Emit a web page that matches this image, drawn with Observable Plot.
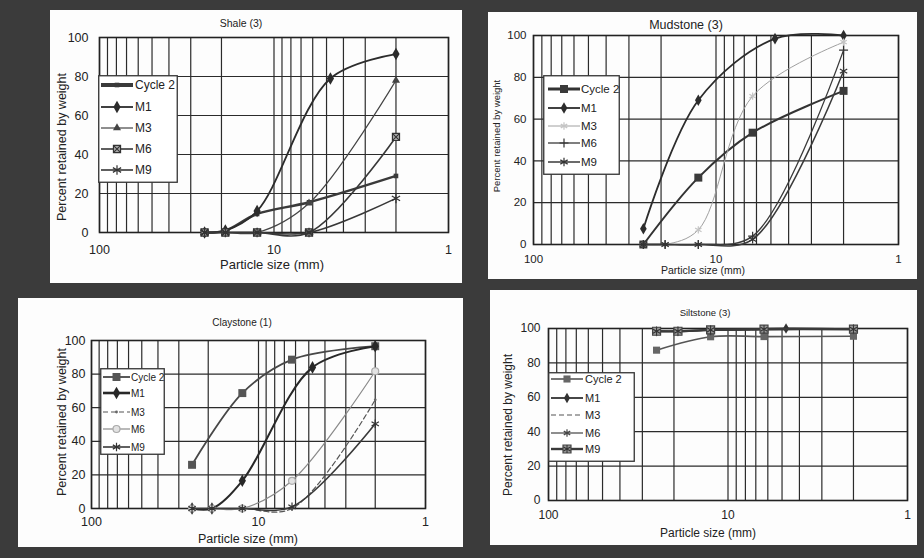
<!DOCTYPE html>
<html><head><meta charset="utf-8">
<script src="https://cdn.jsdelivr.net/npm/d3@7"></script>
<script src="https://cdn.jsdelivr.net/npm/@observablehq/plot@0.6"></script>
<style>
body{margin:0;background:#3b3b3b;}
#root{position:relative;width:924px;height:558px;background:#3b3b3b;font-family:"Liberation Sans",Arial,sans-serif;overflow:hidden;}
.panel{position:absolute;background:#fdfdfd;}
.panel > svg{position:absolute;left:0;top:0;}
.t{position:absolute;white-space:nowrap;color:#222;transform:translate(-50%,-50%);line-height:1;}
.yl{transform:translate(-50%,-50%) rotate(-90deg);}
svg.legend{position:absolute;}
</style></head><body><div id="root"></div><script>
// ---- shared axes ----
const sizes = [25, 19, 12.5, 6.3, 4.75, 2];          // sieve sizes (mm)
const seriesNames = ["Cycle 2", "M1", "M3", "M6", "M9"];
const xTickValues = [100, 10, 1];
const yTickValues = [0, 20, 40, 60, 80, 100];
const xGridValues = [1,2,3,4,5,6,7,8,9,10,20,30,40,50,60,70,80,90,100];

// ---- Shale (3) ----
const shaleCycle2 = [0, 1, 9.5, 15.5, null, 29];
const shaleM1     = [0, 1, 11, null, 79, 91.5];
const shaleM3     = [0, 0, 0, 15, null, 78];
const shaleM6     = [0, 0, 0, 0, null, 49];
const shaleM9     = [0, 0, 0, 0, null, 17.5];

// ---- Mudstone (3) ----
const mudCycle2 = [0, null, 32, 53.5, null, 73.5];
const mudM1     = [7.5, null, 69, null, 98.5, 100];
const mudM3     = [0, 0, 7, 71, null, 96.8];
const mudM6     = [0, 0, 0, 4, null, 93];
const mudM9     = [0, 0, 0, 2.5, null, 83];

// ---- Claystone (1) ----
const clayCycle2 = [26, null, 68.7, 88.6, null, 96.6];
const clayM1     = [0, 0, 16.5, null, 84, 96.6];
const clayM3     = [0, 0, 0, 0, null, 64.7];
const clayM6     = [0, 0, 0, 16.5, null, 81.7];
const clayM9     = [0, 0, 0, 1, null, 50.4];

// ---- Siltstone (3) ----
const siltCycle2 = [87.4, null, 95.2, 95.3, null, 95.5];
const siltM1     = [98.4, 98.4, 99, null, 100, 99.6];
const siltM3     = [98.4, 98.4, 99, 99.4, null, 99.6];
const siltM6     = [98.4, 98.4, 99, 99.4, null, 99.6];
const siltM9     = [98.4, 98.4, 99.2, 99.6, null, 99.6];

const yLabelText = "Percent retained by weight";
const xLabelText = "Particle size (mm)";

const panels = [
  {title: "Shale (3)", box: [50, 10, 412, 273], m: [27, 14, 51, 49],
   titlePos: [191, 13, 10.5], yLabel: [12, 137, 12.5], xLabel: [222, 254, 13],
   tickFont: 12.5, xPad: 13, yPad: 11,
   legend: {box: [48, 65, 80, 108], rows: [10, 32, 53, 74, 95], sw: [3, 35], tx: 37, font: 12},
   series: [
     {values: shaleCycle2, color: "#3a3a3a", width: 2.4, lw: 4, symbol: "square", r: 2.6, fill: "#3a3a3a"},
     {values: shaleM1, color: "#2c2c2c", width: 1.8, symbol: "diamond", r: 3.8, fill: "#2c2c2c"},
     {values: shaleM3, color: "#444", width: 1.2, symbol: "triangle", r: 3, fill: "#444"},
     {values: shaleM6, color: "#383838", width: 1.6, symbol: "square", r: 4, fill: "#aaa", mstroke: "#333", symbol2: "times"},
     {values: shaleM9, color: "#383838", width: 1.6, symbol: "asterisk", r: 4.5, mstroke: "#333"}
   ]},
  {title: "Mudstone (3)", box: [488, 12, 429, 267], m: [23, 19, 35, 45],
   titlePos: [198, 13, 12.5], yLabel: [9, 124, 9.5], xLabel: [215, 258, 10.5],
   tickFont: 11.5, xPad: 10, yPad: 7,
   legend: {box: [55, 63, 77, 100], rows: [14, 33, 51, 68, 87], sw: [5, 37], tx: 38, font: 11.5},
   series: [
     {values: mudCycle2, color: "#333", width: 2, lw: 3, symbol: "square", r: 4.5, fill: "#3a3a3a"},
     {values: mudM1, color: "#2c2c2c", width: 1.8, symbol: "diamond", r: 3.5, fill: "#2c2c2c"},
     {values: mudM3, color: "#a0a0a0", width: 1, symbol: "asterisk", r: 3.5, mstroke: "#c4c4c4"},
     {values: mudM6, color: "#3a3a3a", width: 1.3, symbol: "plus", r: 3, mstroke: "#333"},
     {values: mudM9, color: "#3a3a3a", width: 1.5, symbol: "asterisk", r: 4, mstroke: "#333"}
   ]},
  {title: "Claystone (1)", box: [18, 298, 445, 249], m: [42, 38, 39, 73],
   titlePos: [224, 25, 10], yLabel: [44, 124, 12.5], xLabel: [230, 241, 12.5],
   tickFont: 12.5, xPad: 9, yPad: 6,
   legend: {box: [82, 70, 65, 87], rows: [9, 25, 44, 61, 79], sw: [3, 30], tx: 31, font: 10},
   series: [
     {values: clayCycle2, color: "#474747", width: 1.8, symbol: "square", r: 4.5, fill: "#555"},
     {values: clayM1, color: "#282828", width: 2, lw: 2.6, symbol: "diamond", r: 3.8, fill: "#282828"},
     {values: clayM3, color: "#555", width: 1.2, dash: "5,3", symbol: "circle", r: 1.4, fill: "#666"},
     {values: clayM6, color: "#8a8a8a", width: 1.2, symbol: "circle", r: 3.5, fill: "#e2e2e2", mstroke: "#aaa"},
     {values: clayM9, color: "#3a3a3a", width: 1.6, symbol: "asterisk", r: 4, mstroke: "#333"}
   ]},
  {title: "Siltstone (3)", box: [490, 290, 427, 255], m: [38, 10, 45, 58],
   titlePos: [215, 23, 9.5], yLabel: [18, 135, 12], xLabel: [218, 243, 12],
   tickFont: 12, xPad: 10, yPad: 8,
   legend: {box: [58, 82, 87, 90], rows: [7, 26, 43, 61, 77], sw: [3, 35], tx: 37, font: 11},
   series: [
     {values: siltCycle2, color: "#555", width: 1.6, symbol: "square", r: 4, fill: "#666"},
     {values: siltM1, color: "#333", width: 1.8, symbol: "diamond", r: 3.2, fill: "#333"},
     {values: siltM3, color: "#555", width: 1.2, dash: "5,3", symbol: null},
     {values: siltM6, color: "#444", width: 1.2, symbol: "asterisk", r: 3.5, mstroke: "#444"},
     {values: siltM9, color: "#3a3a3a", width: 2.4, symbol: "square", r: 4.5, fill: "#999", mstroke: "#444", symbol2: "asterisk"}
   ]}
];

const d3Symbols = {square: d3.symbolSquare, diamond: d3.symbolDiamond, triangle: d3.symbolTriangle,
  times: d3.symbolTimes, asterisk: d3.symbolAsterisk, circle: d3.symbolCircle, plus: d3.symbolPlus};

const root = document.getElementById("root");

function addText(parent, txt, x, y, size, cls) {
  const el = document.createElement("div");
  el.className = "t" + (cls ? " " + cls : "");
  el.textContent = txt;
  el.style.left = x + "px"; el.style.top = y + "px"; el.style.fontSize = size + "px";
  parent.appendChild(el);
}

panels.forEach(p => {
  const [bx, by, bw, bh] = p.box;
  const div = document.createElement("div");
  div.className = "panel";
  Object.assign(div.style, {left: bx + "px", top: by + "px", width: bw + "px", height: bh + "px"});
  root.appendChild(div);

  const rows = [];
  p.series.forEach((s, i) => s.values.forEach((v, j) => {
    if (v !== null) rows.push({series: seriesNames[i], size: sizes[j], value: v});
  }));

  const marks = [
    Plot.ruleX(xGridValues, {stroke: "#2b2b2b", strokeWidth: 1.2}),
    Plot.ruleY(yTickValues, {stroke: "#2b2b2b", strokeWidth: 1.2}),
    Plot.frame({stroke: "#222", strokeWidth: 1.6}),
    Plot.axisX(xTickValues, {tickSize: 0, tickPadding: p.xPad, tickFormat: d => String(d), label: null, fontSize: p.tickFont, fill: "#222"}),
    Plot.axisY(yTickValues, {tickSize: 0, tickPadding: p.yPad, label: null, fontSize: p.tickFont, fill: "#222"})
  ];
  p.series.forEach((s, i) => {
    const d = rows.filter(r => r.series === seriesNames[i]);
    marks.push(Plot.line(d, {x: "size", y: "value", stroke: s.color, strokeWidth: s.width, strokeDasharray: s.dash, curve: "catmull-rom"}));
    if (s.symbol) {
      marks.push(Plot.dot(d, {x: "size", y: "value", symbol: s.symbol, r: s.r, fill: s.fill || "none", stroke: s.mstroke || "none", strokeWidth: 1.2}));
      if (s.symbol2) marks.push(Plot.dot(d, {x: "size", y: "value", symbol: s.symbol2, r: s.r * 0.85, stroke: "#333", strokeWidth: 1.1}));
    }
  });

  const chart = Plot.plot({
    width: bw, height: bh,
    marginTop: p.m[0], marginRight: p.m[1], marginBottom: p.m[2], marginLeft: p.m[3],
    x: {type: "log", domain: [100, 1]},
    y: {domain: [0, 100]},
    style: {fontFamily: '"Liberation Sans", Arial, sans-serif', color: "#222", background: "transparent", overflow: "visible"},
    marks
  });
  div.appendChild(chart);

  addText(div, p.title, p.titlePos[0], p.titlePos[1], p.titlePos[2]);
  addText(div, yLabelText, p.yLabel[0], p.yLabel[1], p.yLabel[2], "yl");
  addText(div, xLabelText, p.xLabel[0], p.xLabel[1], p.xLabel[2]);

  // legend
  const L = p.legend;
  const svg = d3.create("svg").attr("class", "legend")
    .attr("width", L.box[2]).attr("height", L.box[3])
    .style("left", L.box[0] + "px").style("top", L.box[1] + "px");
  svg.append("rect").attr("x", 0.75).attr("y", 0.75).attr("width", L.box[2] - 1.5).attr("height", L.box[3] - 1.5)
    .attr("fill", "#fff").attr("stroke", "#333").attr("stroke-width", 1.3);
  p.series.forEach((s, i) => {
    const y = L.rows[i];
    svg.append("line").attr("x1", L.sw[0]).attr("x2", L.sw[1]).attr("y1", y).attr("y2", y)
      .attr("stroke", s.color).attr("stroke-width", s.lw || s.width).attr("stroke-dasharray", s.dash || null);
    const cx = (L.sw[0] + L.sw[1]) / 2;
    if (s.symbol) {
      svg.append("path").attr("d", d3.symbol(d3Symbols[s.symbol], s.r * s.r * Math.PI)())
        .attr("transform", `translate(${cx},${y})`).attr("fill", s.fill || "none").attr("stroke", s.mstroke || "none").attr("stroke-width", 1.2);
      if (s.symbol2) svg.append("path").attr("d", d3.symbol(d3Symbols[s.symbol2], Math.pow(s.r * 0.85, 2) * Math.PI)())
        .attr("transform", `translate(${cx},${y})`).attr("fill", "none").attr("stroke", "#333").attr("stroke-width", 1.1);
    }
    svg.append("text").attr("x", L.tx).attr("y", y).attr("dy", "0.35em").attr("font-size", L.font)
      .attr("font-family", '"Liberation Sans", Arial, sans-serif').attr("fill", "#222").text(seriesNames[i]);
  });
  div.appendChild(svg.node());
});
</script></body></html>
